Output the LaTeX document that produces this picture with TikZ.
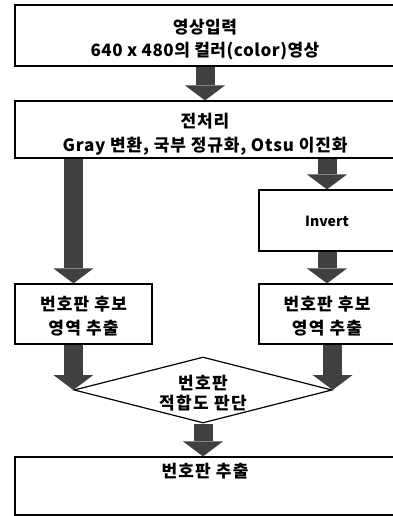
\documentclass[tikz,border=0pt]{standalone}
\usepackage{fontspec}
\setmainfont{Noto Sans CJK KR}
\usetikzlibrary{arrows.meta,shapes.geometric}
\definecolor{arrowgray}{gray}{0.25}
\tikzset{
  stepbox/.style={draw,line width=1.2pt,inner sep=0pt,align=center,
    font=\bfseries\fontsize{17}{23}\selectfont\addfontfeatures{LetterSpace=3}},
  wideletters/.style={font=\bfseries\fontsize{17}{24}\selectfont\addfontfeatures{LetterSpace=7}},
  judgebox/.style={stepbox,shape=diamond,aspect=3.9,font=\bfseries\fontsize{17}{20}\selectfont\addfontfeatures{LetterSpace=8}},
  blockarrow/.style={draw=arrowgray,line width=19pt,
    -{Triangle[width=40pt,length=15pt,line width=0pt]}},
}
\begin{document}
\begin{tikzpicture}[x=1pt,y=-1pt]
\useasboundingbox (0,0) rectangle (393,516);

%Shape: Rectangle [input]
\node[stepbox,minimum width=380pt,minimum height=61pt,text height=43pt,text depth=0pt] (input) at (205,35.5)
  {영상입력\\640 x 480의 컬러(color)영상};
%Shape: Rectangle [preprocess]
\node[stepbox,minimum width=380pt,minimum height=57pt,text height=43pt,text depth=0pt,
  font=\bfseries\fontsize{17}{24}\selectfont\addfontfeatures{LetterSpace=5}] (pre) at (205,129.5)
  {전처리\\Gray 변환, 국부 정규화, Otsu 이진화};
%Shape: Rectangle [invert]
\node[stepbox,minimum width=136pt,minimum height=61pt,text height=12pt,text depth=1pt,
  font=\bfseries\fontsize{14}{16}\selectfont] (inv) at (327,220.5)
  {Invert};
%Shape: Rectangle [candidates]
\node[stepbox,wideletters,minimum width=137pt,minimum height=60pt,text height=40pt,text depth=0pt] (lcand) at (83.5,314)
  {번호판 후보\\영역 추출};
\node[stepbox,wideletters,minimum width=136pt,minimum height=60pt,text height=40pt,text depth=0pt] (rcand) at (327,314)
  {번호판 후보\\영역 추출};
%Shape: Diamond [judge]
\node[judgebox,minimum width=258pt,minimum height=66pt,text height=38pt,text depth=0pt] (judge) at (203,390)
  {번호판\\적합도 판단};
%Shape: Rectangle [output]
\node[stepbox,wideletters,minimum width=380pt,minimum height=58pt,text height=20pt,text depth=38pt] (out) at (205,486)
  {번호판 추출};

%Block Arrows
\draw[blockarrow] (input.south) -- (pre.north);
\draw[blockarrow] (pre.south -| judge.west) -- (lcand.north -| judge.west);
\draw[blockarrow] (pre.south -| inv.north) -- (inv.north);
\draw[blockarrow] (inv.south) -- (rcand.north);
\draw[blockarrow] (lcand.south -| judge.west) -- (judge.west);
\draw[blockarrow] (rcand.south -| judge.east) -- (judge.east);
\draw[blockarrow] (judge.south) -- (out.north -| judge.south);

\end{tikzpicture}
\end{document}
